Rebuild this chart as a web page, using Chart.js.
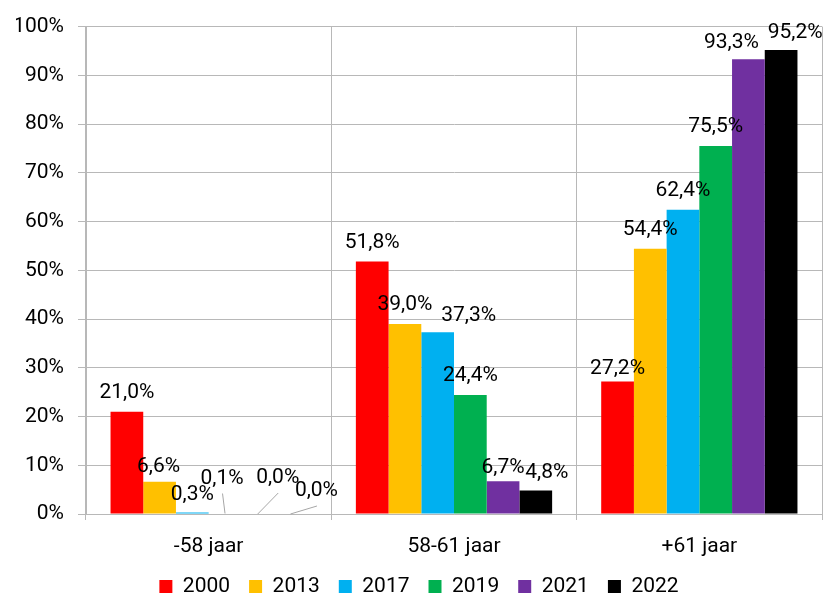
<!DOCTYPE html>
<html>
<head>
<meta charset="utf-8">
<script src="https://cdn.jsdelivr.net/npm/chart.js@4/dist/chart.umd.min.js"></script>
<style>
  html, body { margin: 0; padding: 0; background: #fff; }
  #wrap { width: 824px; height: 597px; }
</style>
</head>
<body>
<div id="wrap"><canvas id="chart"></canvas></div>
<script>
// Aandeel per leeftijdsgroep, per jaar (in %)
const categories = ["-58 jaar", "58-61 jaar", "+61 jaar"];
const years = ["2000", "2013", "2017", "2019", "2021", "2022"];

const v2000 = [21.0, 51.8, 27.2];
const v2013 = [6.6, 39.0, 54.4];
const v2017 = [0.3, 37.3, 62.4];
const v2019 = [0.1, 24.4, 75.5];
const v2021 = [0.0, 6.7, 93.3];
const v2022 = [0.0, 4.8, 95.2];

const yTicks = [0, 10, 20, 30, 40, 50, 60, 70, 80, 90, 100];

const colors = ["#FF0000", "#FFC000", "#00B0F0", "#00B050", "#7030A0", "#000000"];

// label verschuiving t.o.v. standaardpositie boven de balk [dx, dy]
const labelShift = [
  [[0, 0], [0, 0], [0, 6]],
  [[-1, 4], [0, 0], [0, 0]],
  [[0, 1], [31, 3], [0, 0]],
  [[-3, -16], [0, 0], [0, 0]],
  [[20, -17], [0, 5], [-17, 2]],
  [[26, -4], [11, 1], [14, 2]],
];
// labels met verbindingslijntje
const leaders = [[3, 0], [4, 0], [5, 0]];

const FONT = "Roboto, 'Open Sans', sans-serif";
const GRID = "#b8b8b8";

const series = [v2000, v2013, v2017, v2019, v2021, v2022];

const pct = n => n.toFixed(1).replace(".", ",") + "%";

const barLabels = {
  id: "barLabels",
  afterDatasetsDraw(chart) {
    const ctx = chart.ctx;
    ctx.save();
    ctx.font = "21px " + FONT;
    ctx.fillStyle = "#000";
    ctx.textAlign = "center";
    ctx.textBaseline = "middle";
    chart.data.datasets.forEach((ds, i) => {
      chart.getDatasetMeta(i).data.forEach((bar, j) => {
        const [dx, dy] = labelShift[i][j];
        const x = bar.x + dx;
        const y = bar.y - 19 + dy;
        if (leaders.some(l => l[0] === i && l[1] === j)) {
          ctx.strokeStyle = "#a6a6a6";
          ctx.lineWidth = 1;
          ctx.beginPath();
          ctx.moveTo(x + 0.5, y + 15);
          ctx.lineTo(bar.x, bar.y);
          ctx.stroke();
        }
        ctx.fillText(pct(ds.data[j]), x, y);
      });
    });
    ctx.restore();
  },
};

new Chart(document.getElementById("chart"), {
  type: "bar",
  data: {
    labels: categories,
    datasets: years.map((y, i) => ({
      label: y,
      data: series[i],
      backgroundColor: colors[i],
      borderWidth: 0,
      categoryPercentage: 0.8,
      barPercentage: 1.0,
    })),
  },
  options: {
    responsive: true,
    maintainAspectRatio: false,
    animation: false,
    layout: { padding: { top: 14, right: 2, left: 16, bottom: 0 } },
    plugins: {
      legend: {
        position: "bottom",
        maxHeight: 40,
        labels: {
          color: "#000",
          font: { family: FONT, size: 21 },
          boxWidth: 13,
          boxHeight: 13,
          padding: 19,
        },
      },
      tooltip: { enabled: false },
    },
    scales: {
      x: {
        afterFit: s => { s.height = 43; },
        grid: { color: GRID, offset: true, tickLength: 6 },
        border: { color: GRID },
        ticks: { color: "#000", font: { family: FONT, size: 21 }, padding: 14 },
      },
      y: {
        min: 0,
        max: 100,
        afterBuildTicks: s => { s.ticks = yTicks.map(v => ({ value: v })); },
        afterFit: s => { s.width = 70; },
        grid: { color: GRID, tickLength: 8 },
        border: { color: GRID },
        ticks: {
          color: "#000",
          font: { family: FONT, size: 21 },
          padding: 14,
          callback: v => v + "%",
        },
      },
    },
  },
  plugins: [barLabels],
});
</script>
</body>
</html>
